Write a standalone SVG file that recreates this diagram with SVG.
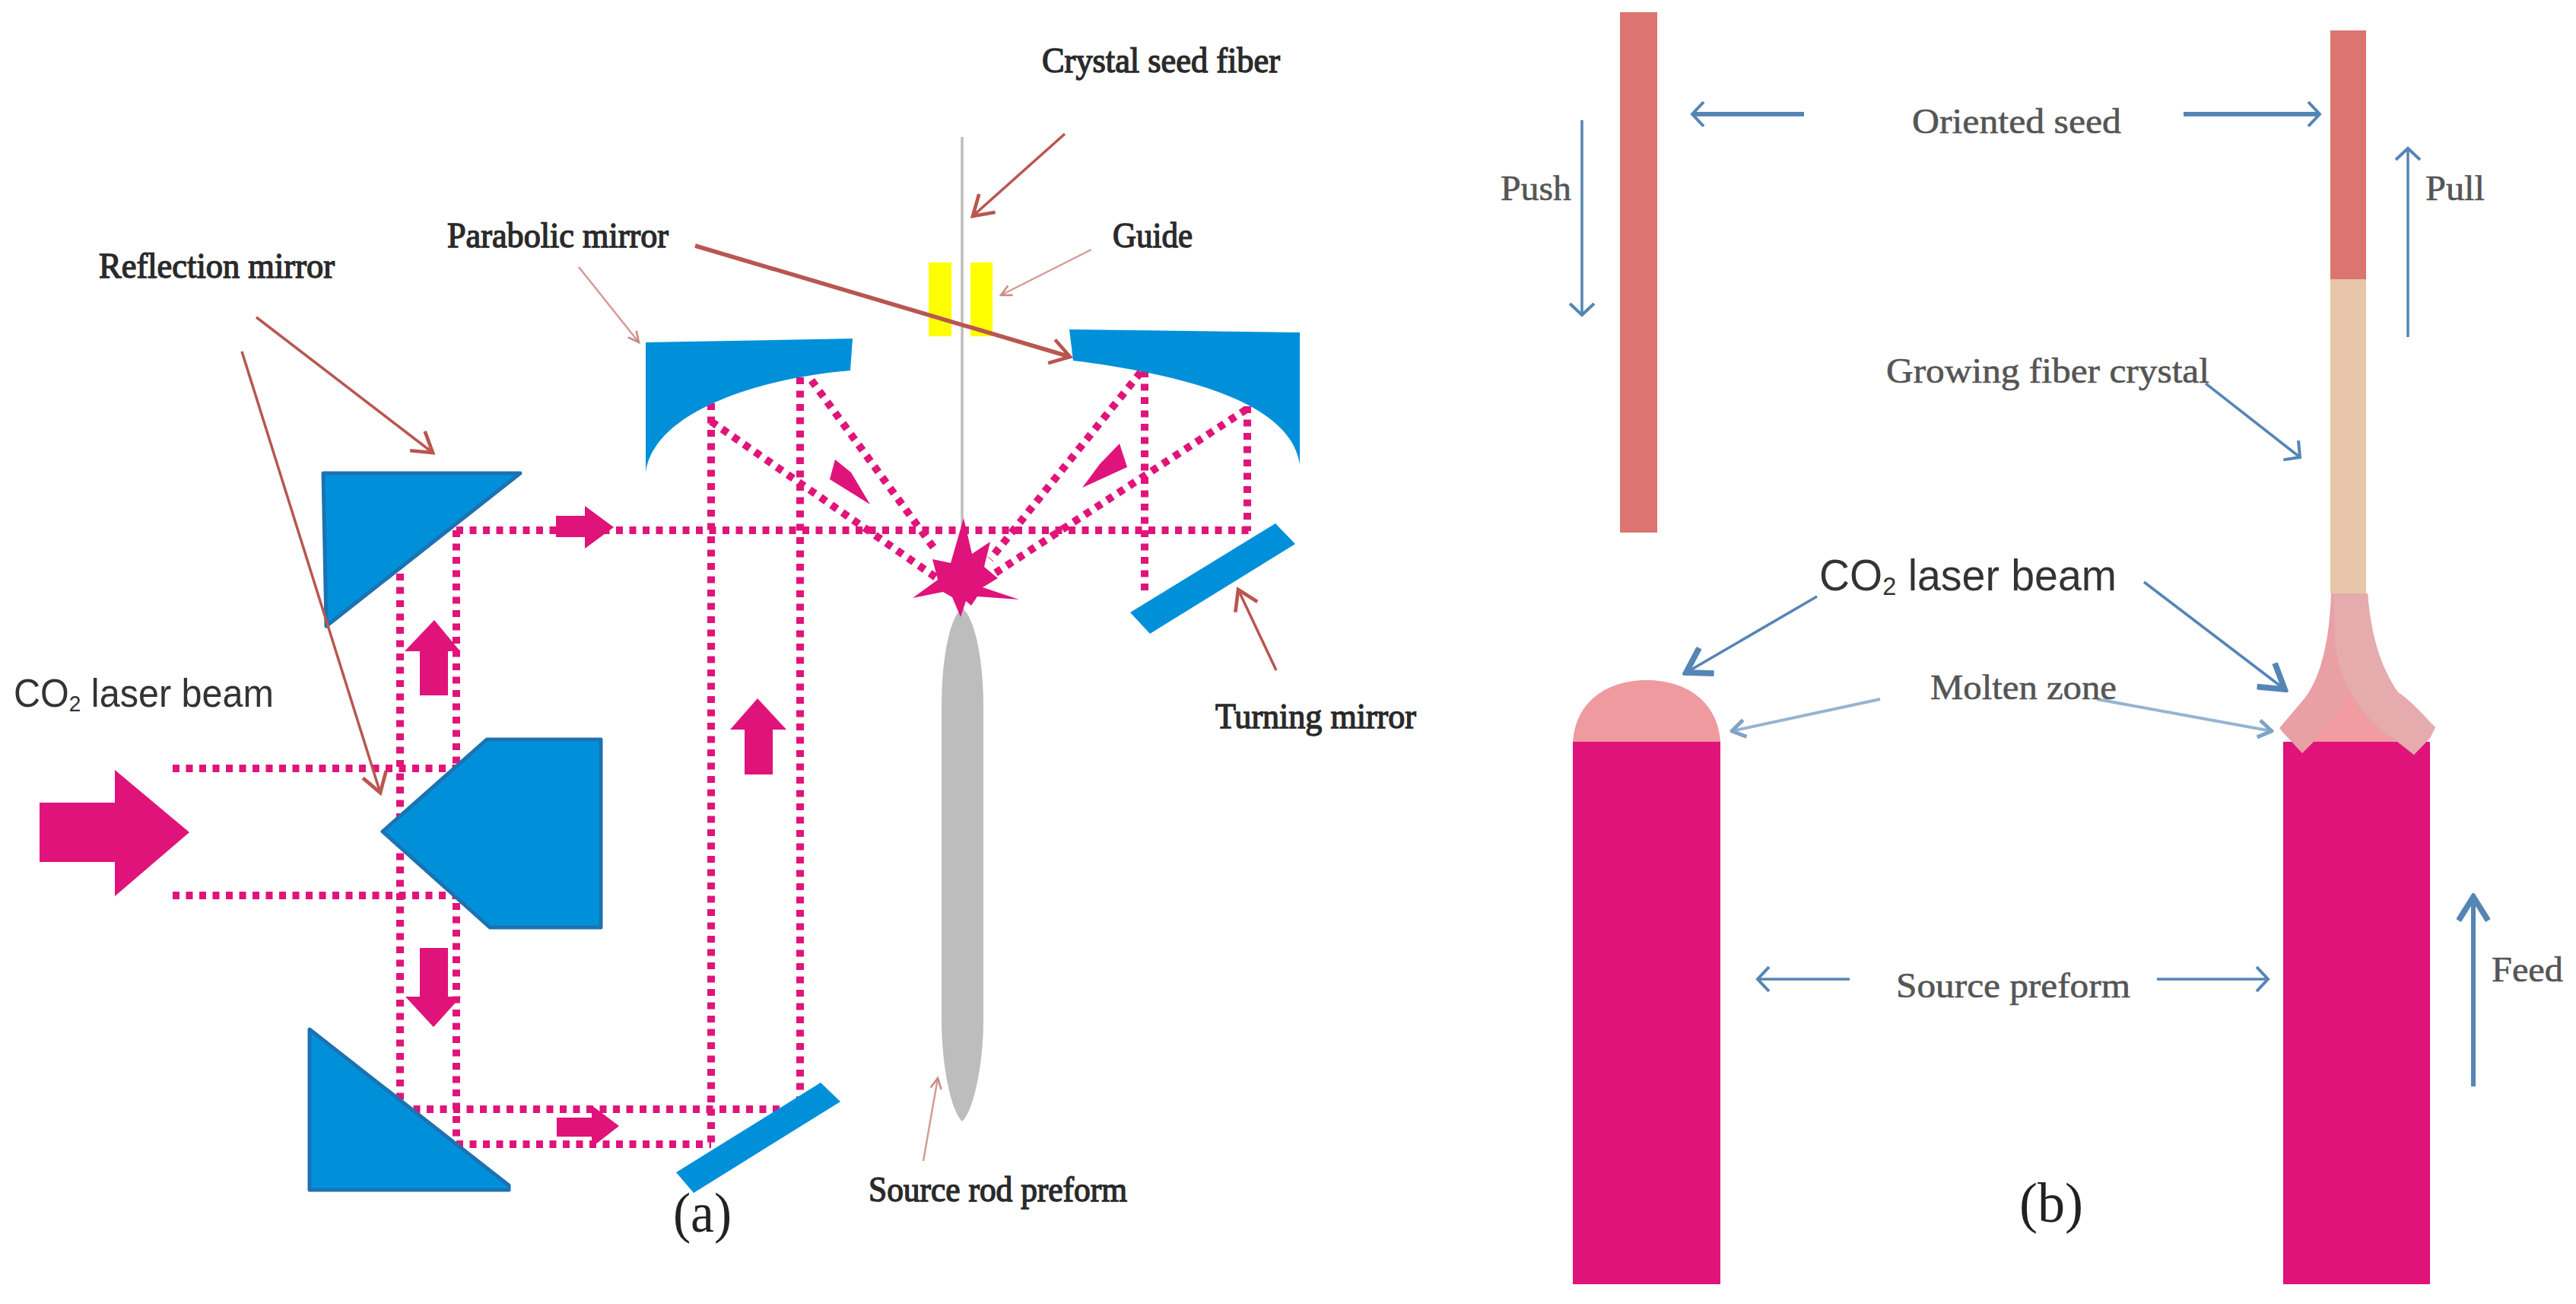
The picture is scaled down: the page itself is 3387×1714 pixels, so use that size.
<svg xmlns="http://www.w3.org/2000/svg" width="3387" height="1714" viewBox="0 0 3387 1714">
<style>
.bg{fill:#fff}
.beam{fill:none;stroke:#E0147A;stroke-width:10;stroke-dasharray:9 8.5}
.pink{fill:#E0137A}
.mirror{fill:#0090DA;stroke:#1C72B2;stroke-width:5;stroke-linejoin:round}
.plain{fill:#0090DA}
.br{fill:none;stroke:#B9564F;stroke-width:3.5}
.brt{fill:none;stroke:#B9564F;stroke-width:5.5}
.brl{fill:none;stroke:#D39B97;stroke-width:2.5}
.bl{fill:none;stroke:#5585B5;stroke-width:3.5}
.blt{fill:none;stroke:#5585B5;stroke-width:6}
.bll{fill:none;stroke:#95B4D2;stroke-width:4}
.s{font-family:"Liberation Serif","Times New Roman",serif;fill:#222}
.sb{fill:#2a2a2a;stroke:#2a2a2a;stroke-width:1.4}
.g{fill:#555;stroke:#555;stroke-width:.6}
.f{font-family:"Liberation Sans",Arial,sans-serif;fill:#333}
</style>
<defs>
<marker id="mBr" markerUnits="userSpaceOnUse" markerWidth="40" markerHeight="40" refX="27" refY="15" viewBox="0 0 30 30" orient="auto"><path d="M8,3 L27,15 L8,27" fill="none" stroke="#B9564F" stroke-width="3.5"/></marker>
<marker id="mBrl" markerUnits="userSpaceOnUse" markerWidth="20" markerHeight="20" refX="17" refY="10" viewBox="0 0 20 20" orient="auto"><path d="M3,3 L17,10 L3,17" fill="none" stroke="#C98883" stroke-width="2.5"/></marker>
<marker id="mBl" markerUnits="userSpaceOnUse" markerWidth="44" markerHeight="44" refX="30" refY="20" viewBox="0 0 44 44" orient="auto"><path d="M15,4 L30,20 L15,36" fill="none" stroke="#5585B5" stroke-width="4"/></marker>
<marker id="mBlt" markerUnits="userSpaceOnUse" markerWidth="44" markerHeight="44" refX="30" refY="17" viewBox="0 0 34 34" orient="auto"><path d="M6,2 L30,17 L6,32" fill="none" stroke="#5585B5" stroke-width="6"/></marker>
<marker id="mBll" markerUnits="userSpaceOnUse" markerWidth="30" markerHeight="30" refX="22" refY="12" viewBox="0 0 24 24" orient="auto"><path d="M8,3 L22,12 L8,21" fill="none" stroke="#7FA3C7" stroke-width="4"/></marker>
</defs>
<rect class="bg" width="3387" height="1714"/>

<g id="beams">
<path class="beam" d="M227,1010H600M227,1177H600M526,754V1458M600,697V1504M600,697H1642M526,1458H1054M600,1504H935M935,530V1504M1052,496V1458M1505,487V784M1640,534V698"/>
<path class="beam" d="M935,554L1235,762M1067,500L1232,726M1500,489L1302,735M1639,538L1309,753"/>
</g>

<g id="prism-top"><path class="mirror" d="M425,622H684L429,823Z"/></g>
<g id="prism-middle"><path class="mirror" d="M503,1093L640,972H790V1219H644Z"/></g>
<g id="prism-bottom"><path class="mirror" d="M407,1353L669,1558V1564H407Z"/></g>
<g id="mirror-lower"><path class="plain" d="M1079,1423L1105,1448L912,1568L889,1541Z"/></g>
<g id="mirror-turning"><path class="plain" d="M1677,688L1703,715L1512,833L1486,805Z"/></g>
<g id="parabolic-left"><path class="plain" d="M849,450L1121,445L1118,487C1000,497 860,540 849,621Z"/></g>
<g id="parabolic-right"><path class="plain" d="M1406,433L1709,437V610C1700,550 1620,500 1411,474Z"/></g>
<g id="guide">
<rect x="1221" y="345" width="30" height="97" fill="#FFFF00"/>
<rect x="1276" y="345" width="29" height="97" fill="#FFFF00"/>
</g>
<g id="seed-fiber"><path d="M1265,180V800" stroke="#BDBDBD" stroke-width="3.5" fill="none"/></g>
<g id="source-rod"><path d="M1265,799C1280,810 1293,860 1293,930V1340C1293,1400 1280,1460 1265,1474C1250,1460 1238,1400 1238,1340V930C1238,860 1250,810 1265,799Z" fill="#BDBDBD"/></g>
<g id="focus-star"><path class="pink" d="M1267,681L1278,728L1302,712L1294,745L1312,760L1292,772L1340,788L1285,784L1277,796L1270,790L1263,811L1252,785L1240,778L1200,786L1233,762L1226,735L1250,740Z"/></g>

<g id="beam-arrows">
<path class="pink" d="M52,1055H151V1012L249,1094L151,1178V1133H52Z"/>
<path class="pink" d="M552,914V856H532L571,815L605,856H589V914Z"/>
<path class="pink" d="M979,1018V959H960L996,918L1034,959H1016V1018Z"/>
<path class="pink" d="M731,678H769V665L807,693L769,721V706H731Z"/>
<path class="pink" d="M552,1246H589V1310H606L570,1350L533,1310H552Z"/>
<path class="pink" d="M732,1469H778V1453L814,1480L778,1508V1494H732Z"/>
<path class="pink" d="M1098,604L1119,621L1144,663L1091,630Z"/>
<path class="pink" d="M1472,583L1482,614L1423,641L1446,610Z"/>
</g>

<g id="connectors">
<path class="br" d="M1400,176L1279,284" marker-end="url(#mBr)"/>
<path class="brl" d="M1435,328L1316,388" marker-end="url(#mBrl)"/>
<path class="brt" d="M914,323L1407,469" marker-end="url(#mBr)"/>
<path class="brl" d="M761,351L840,450" marker-end="url(#mBrl)"/>
<path class="br" d="M337,417L569,595" marker-end="url(#mBr)"/>
<path class="br" d="M318,462L500,1042" marker-end="url(#mBr)"/>
<path class="br" d="M1678,881L1628,775" marker-end="url(#mBr)"/>
<path class="brl" d="M1214,1526L1233,1417" marker-end="url(#mBrl)"/>
<path class="blt" d="M2372,150H2225" marker-end="url(#mBl)"/>
<path class="blt" d="M2871,150H3050" marker-end="url(#mBl)"/>
<path class="bl" d="M2080,158V414" marker-end="url(#mBl)"/>
<path class="bl" d="M3166,443V195" marker-end="url(#mBl)"/>
<path class="bl" d="M2900,504L3024,601" marker-end="url(#mBl)"/>
<path class="bl" d="M2389,784L2217,884" marker-end="url(#mBlt)"/>
<path class="bl" d="M2819,765L3004,906" marker-end="url(#mBlt)"/>
<path class="bll" d="M2472,919L2277,961" marker-end="url(#mBll)"/>
<path class="bll" d="M2757,919L2987,961" marker-end="url(#mBll)"/>
<path class="bl" d="M2432,1287H2311" marker-end="url(#mBl)"/>
<path class="bl" d="M2836,1287H2982" marker-end="url(#mBl)"/>
<path class="blt" d="M3252,1428V1179" marker-end="url(#mBlt)"/>
</g>

<g id="seed-left"><rect x="2130" y="16" width="49" height="684" fill="#DC7470"/></g>
<g id="seed-right"><rect x="3064" y="40" width="47" height="327" fill="#DC7470"/></g>
<g id="crystal-right"><rect x="3064" y="367" width="47" height="413" fill="#E7C6A9"/></g>
<g id="preform-left">
<path d="M2068,975C2072,920 2115,894 2165,894C2215,894 2258,920 2262,975Z" fill="#EF9A9E"/>
<rect x="2068" y="975" width="194" height="713" fill="#E0137A"/>
</g>
<g id="preform-right"><rect x="3002" y="975" width="193" height="713" fill="#E0137A"/></g>
<g id="molten-right">
<path d="M3065,780H3113C3116,820 3125,870 3153,910C3175,925 3190,945 3202,956L3195,970L3174,992L3152,975H3042L3027,990L3002,963L2997,957L3030,918C3052,890 3063,840 3065,780Z" fill="#E9A0A5"/>
<path d="M3090,913C3100,940 3125,960 3147,975H3042C3060,955 3075,935 3090,913Z" fill="#F29BA0"/>
<path d="M3068,780H3113C3116,820 3125,870 3153,910C3175,925 3190,945 3202,956L3195,970L3174,992L3147,970C3105,945 3078,900 3070,847Z" fill="#E6ABAD"/>
</g>

<g id="labels">
<text class="s sb" x="1370" y="95" font-size="46" textLength="313" lengthAdjust="spacingAndGlyphs">Crystal seed fiber</text>
<text class="s sb" x="1463" y="325" font-size="46" textLength="105" lengthAdjust="spacingAndGlyphs">Guide</text>
<text class="s sb" x="588" y="325" font-size="46" textLength="291" lengthAdjust="spacingAndGlyphs">Parabolic mirror</text>
<text class="s sb" x="130" y="365" font-size="46" textLength="310" lengthAdjust="spacingAndGlyphs">Reflection mirror</text>
<text class="f" x="18" y="929" font-size="52" textLength="342" lengthAdjust="spacingAndGlyphs">CO<tspan font-size="30" dy="6">2</tspan><tspan dy="-6"> laser beam</tspan></text>
<text class="s sb" x="1598" y="957" font-size="46" textLength="264" lengthAdjust="spacingAndGlyphs">Turning mirror</text>
<text class="s sb" x="1142" y="1579" font-size="46" textLength="340" lengthAdjust="spacingAndGlyphs">Source rod preform</text>
<text class="s" x="885" y="1619" font-size="74" textLength="77" lengthAdjust="spacingAndGlyphs">(a)</text>
<text class="s g" x="2514" y="175" font-size="46" textLength="275" lengthAdjust="spacingAndGlyphs">Oriented seed</text>
<text class="s g" x="1973" y="263" font-size="46" textLength="93" lengthAdjust="spacingAndGlyphs">Push</text>
<text class="s g" x="3189" y="263" font-size="46" textLength="78" lengthAdjust="spacingAndGlyphs">Pull</text>
<text class="s g" x="2480" y="503" font-size="46" textLength="425" lengthAdjust="spacingAndGlyphs">Growing fiber crystal</text>
<text class="f" x="2392" y="776" font-size="58" textLength="391" lengthAdjust="spacingAndGlyphs" fill="#222">CO<tspan font-size="34" dy="6">2</tspan><tspan dy="-6"> laser beam</tspan></text>
<text class="s g" x="2538" y="919" font-size="46" textLength="245" lengthAdjust="spacingAndGlyphs">Molten zone</text>
<text class="s g" x="2493" y="1311" font-size="46" textLength="308" lengthAdjust="spacingAndGlyphs">Source preform</text>
<text class="s g" x="3276" y="1290" font-size="46" textLength="94" lengthAdjust="spacingAndGlyphs">Feed</text>
<text class="s" x="2655" y="1606" font-size="74" textLength="84" lengthAdjust="spacingAndGlyphs">(b)</text>
</g>
</svg>
